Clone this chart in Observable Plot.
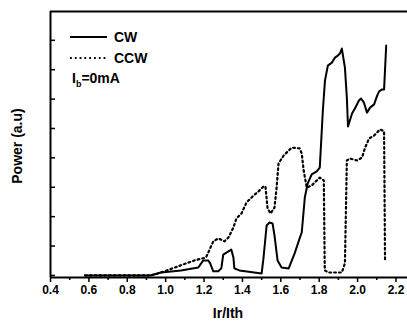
<!DOCTYPE html>
<html><head><meta charset="utf-8">
<script src="https://cdn.jsdelivr.net/npm/d3@7"></script>
<script src="https://cdn.jsdelivr.net/npm/@observablehq/plot@0.6"></script>
<style>
html,body{margin:0;padding:0;background:#fff;}
#chart{width:407px;height:325px;}
</style>
</head><body><div id="chart"></div>
<script>
// CW (solid) series: Ir/Ith and power (a.u.)
const cwX = [0.58,0.92,0.976,1.08,1.17,1.196,1.222,1.232,1.248,1.274,1.29,1.30,1.327,1.342,1.353,1.358,1.384,1.50,1.51,1.526,1.541,1.557,1.567,1.583,1.604,1.641,1.672,1.698,1.709,1.725,1.74,1.761,1.787,1.803,1.819,1.83,1.845,1.866,1.882,1.897,1.908,1.918,1.934,1.944,1.95,1.971,1.986,2.007,2.018,2.033,2.049,2.065,2.086,2.102,2.112,2.128,2.138,2.149];
const cwY = [0,0,0.1,0.17,0.27,0.51,0.51,0.41,0.14,0.14,0.24,0.71,0.82,0.88,0.61,0.24,0.17,0.07,0.61,1.7,1.8,1.77,1.36,0.51,0.27,0.24,0.75,1.26,1.46,2.65,3.13,3.44,3.54,3.67,5.61,6.63,7.14,7.24,7.41,7.48,7.55,7.72,7.07,6.05,5.07,5.51,5.68,5.95,6.02,5.88,5.54,5.71,5.82,6.12,6.26,6.33,6.33,7.82];
// CCW (dotted) series
const ccwX = [0.58,0.923,0.976,1.065,1.149,1.21,1.227,1.248,1.274,1.306,1.327,1.353,1.369,1.395,1.421,1.458,1.484,1.51,1.52,1.531,1.547,1.567,1.578,1.588,1.615,1.641,1.657,1.698,1.709,1.719,1.735,1.761,1.787,1.803,1.824,1.829,1.85,1.918,1.934,1.944,1.96,1.997,2.023,2.039,2.06,2.086,2.117,2.138,2.143];
const ccwY = [0,0,0.1,0.31,0.51,0.61,0.85,1.16,1.26,1.16,1.29,1.63,1.94,2.11,2.48,2.72,2.86,3.03,3.03,2.28,2.11,2.31,2.99,3.81,4.08,4.25,4.35,4.32,4.15,3.57,2.99,3.06,3.23,3.33,3.23,0.17,0.1,0.1,0.41,3.91,3.98,3.91,4.01,4.35,4.66,4.76,4.97,4.90,0.51];
// axis ticks
const xMajor = [0.4,0.6,0.8,1.0,1.2,1.4,1.6,1.8,2.0,2.2];
const xMinor = [0.5,0.7,0.9,1.1,1.3,1.5,1.7,1.9,2.1];
const yTicks = [0,1,2,3,4,5,6,7,8];
const xDomain = [0.4,2.26];
const yDomain = [-0.07,8.98];
const seriesNames = ["CW","CCW"];
const biasLabel = ["I","b","=0mA"];

const cw = cwX.map((x,i)=>({x, y: cwY[i]}));
const ccw = ccwX.map((x,i)=>({x, y: ccwY[i]}));
const FONT = "'Liberation Sans', Arial, sans-serif";

const chart = Plot.plot({
  width: 407, height: 325,
  marginLeft: 50, marginRight: 0, marginTop: 11, marginBottom: 48,
  x: {domain: xDomain},
  y: {domain: yDomain},
  style: {fontFamily: FONT, fontWeight: "bold", fontSize: "12px", color: "#000", background: "#fff"},
  marks: [
    Plot.axisX(xMinor, {tickSize: 3, tickFormat: () => "", label: null, strokeWidth: 1.5}),
    Plot.axisX(xMajor, {tickSize: 5, tickPadding: 3, tickFormat: d3.format(".1f"), label: null, strokeWidth: 1.5, fontSize: 12, fontWeight: "bold", fill: "#000"}),
    Plot.axisY(yTicks, {tickSize: 5, dx: 5, tickFormat: () => "", label: null, strokeWidth: 1.5}),
    Plot.ruleX([xDomain[0]], {strokeWidth: 2}),
    Plot.ruleY([yDomain[0]], {strokeWidth: 2}),
    Plot.ruleY([yDomain[1]], {strokeWidth: 2}),
    Plot.line(ccw, {x: "x", y: "y", stroke: "#000", strokeWidth: 2.2, strokeDasharray: "1.8,3"}),
    Plot.line(cw, {x: "x", y: "y", stroke: "#000", strokeWidth: 2})
  ]
});
document.getElementById("chart").appendChild(chart);

const svg = d3.select(chart);
// axis labels
svg.append("text").attr("x", 228).attr("y", 318).attr("text-anchor","middle").attr("fill","#000")
  .attr("font-size", 14).attr("font-weight","bold").attr("font-family",FONT).text("Ir/Ith");
svg.append("text").attr("transform","translate(22,146) rotate(-90)").attr("text-anchor","middle").attr("fill","#000")
  .attr("font-size", 14).attr("font-weight","bold").attr("font-family",FONT).text("Power (a.u)");
// legend
const lg = svg.append("g").attr("font-family",FONT).attr("font-weight","bold").attr("font-size",14).attr("text-anchor","start").attr("fill","#000");
lg.append("line").attr("x1",70).attr("x2",107).attr("y1",37).attr("y2",37).attr("stroke","#000").attr("stroke-width",2);
lg.append("text").attr("x",114).attr("y",42).attr("text-anchor","start").text(seriesNames[0]);
lg.append("line").attr("x1",70).attr("x2",107).attr("y1",58).attr("y2",58).attr("stroke","#000").attr("stroke-width",2.2).attr("stroke-dasharray","1.8,3");
lg.append("text").attr("x",114).attr("y",63).attr("text-anchor","start").text(seriesNames[1]);
const t = lg.append("text").attr("x",72).attr("y",83).attr("text-anchor","start");
t.append("tspan").text(biasLabel[0]);
t.append("tspan").attr("font-size",9).attr("dy",4).text(biasLabel[1]);
t.append("tspan").attr("dy",-4).text(biasLabel[2]);
</script>
</body></html>
